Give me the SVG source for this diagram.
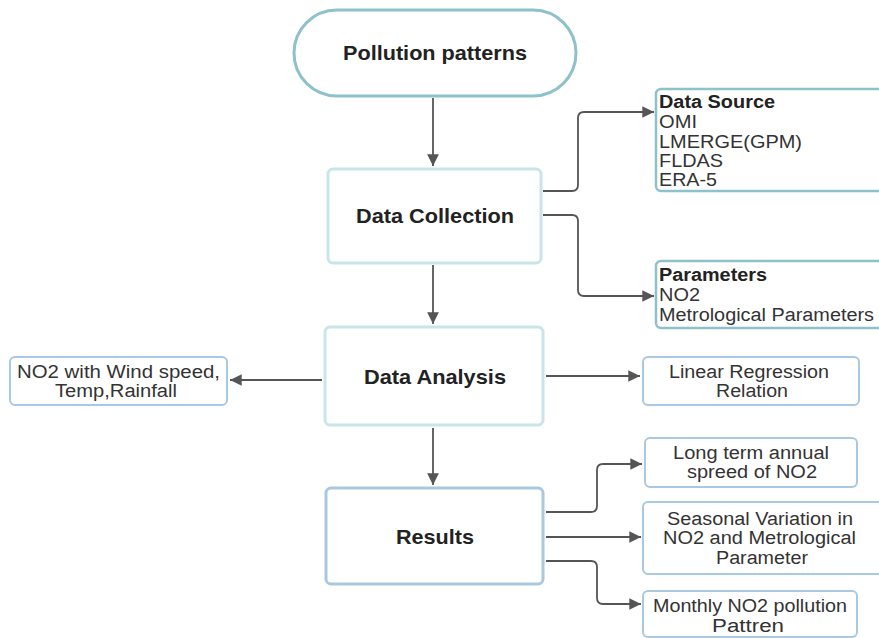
<svg xmlns="http://www.w3.org/2000/svg" width="879" height="638" viewBox="0 0 879 638">
<style>
.t{font-family:"Liberation Sans",Arial,sans-serif;fill:#222;}
.b{font-weight:bold;font-size:20.5px;text-anchor:middle;}
.r{font-size:18px;fill:#333;}
.sb{font-size:18px;font-weight:bold;}
.c{text-anchor:middle;}
.main{fill:#fff;stroke:#c8e6ea;stroke-width:3;}
.side{fill:#fff;stroke:#a9c8e2;stroke-width:2;}
.sideT{fill:#fff;stroke:#8ec1cc;stroke-width:2.5;}
.con{fill:none;stroke:#555;stroke-width:1.8;}
</style>
<defs>
<marker id="ah" viewBox="0 0 10 10" refX="10" refY="5" markerWidth="6.5" markerHeight="6.5" orient="auto" markerUnits="strokeWidth">
<path d="M0,0 L10,5 L0,10 z" fill="#555"/>
</marker>
</defs>
<rect width="879" height="638" fill="#fff"/>
<g id="connectors">
<path class="con" d="M433,98 V166" marker-end="url(#ah)"/>
<path class="con" d="M433,265 V324" marker-end="url(#ah)"/>
<path class="con" d="M433,428 V485" marker-end="url(#ah)"/>
<path class="con" d="M543,191 H572 Q578,191 578,185 V118 Q578,112 584,112 H654" marker-end="url(#ah)"/>
<path class="con" d="M543,215 H572 Q578,215 578,221 V290 Q578,296 584,296 H654" marker-end="url(#ah)"/>
<path class="con" d="M322,380 H230" marker-end="url(#ah)"/>
<path class="con" d="M546,376 H640" marker-end="url(#ah)"/>
<path class="con" d="M546,512 H591 Q597,512 597,506 V470 Q597,464 603,464 H642" marker-end="url(#ah)"/>
<path class="con" d="M546,537 H641" marker-end="url(#ah)"/>
<path class="con" d="M546,561 H591 Q597,561 597,567 V598 Q597,604 603,604 H641" marker-end="url(#ah)"/>
</g>
<g id="pollution">
<rect x="294" y="10" width="282" height="86" rx="43" fill="#fff" stroke="#8ec1cc" stroke-width="3"/>
<text class="t b" x="435" y="60" textLength="184" lengthAdjust="spacingAndGlyphs">Pollution patterns</text>
</g>
<g id="collection">
<rect class="main" x="328" y="169" width="213" height="94" rx="5"/>
<text class="t b" x="435" y="223" textLength="158" lengthAdjust="spacingAndGlyphs">Data Collection</text>
</g>
<g id="analysis">
<rect class="main" x="325" y="327" width="218" height="98" rx="5"/>
<text class="t b" x="435" y="384" textLength="142" lengthAdjust="spacingAndGlyphs">Data Analysis</text>
</g>
<g id="results">
<rect x="326" y="488" width="217" height="96" rx="5" fill="#fff" stroke="#a9c8e2" stroke-width="3"/>
<text class="t b" x="435" y="544" textLength="78" lengthAdjust="spacingAndGlyphs">Results</text>
</g>
<g id="datasource">
<rect class="sideT" x="656" y="89" width="230" height="102" rx="5"/>
<text class="t sb" x="659" y="108" textLength="116" lengthAdjust="spacingAndGlyphs">Data Source</text>
<text class="t r" x="659" y="128" textLength="38" lengthAdjust="spacingAndGlyphs">OMI</text>
<text class="t r" x="659" y="148" textLength="143" lengthAdjust="spacingAndGlyphs">LMERGE(GPM)</text>
<text class="t r" x="659" y="167" textLength="64" lengthAdjust="spacingAndGlyphs">FLDAS</text>
<text class="t r" x="659" y="186" textLength="58" lengthAdjust="spacingAndGlyphs">ERA-5</text>
</g>
<g id="parameters">
<rect class="sideT" x="656" y="261" width="230" height="67" rx="5"/>
<text class="t sb" x="659" y="281" textLength="108" lengthAdjust="spacingAndGlyphs">Parameters</text>
<text class="t r" x="659" y="301" textLength="41" lengthAdjust="spacingAndGlyphs">NO2</text>
<text class="t r" x="659" y="321" textLength="215" lengthAdjust="spacingAndGlyphs">Metrological Parameters</text>
</g>
<g id="windspeed">
<rect class="side" x="10" y="357" width="217" height="48" rx="5"/>
<text class="t r c" x="118.5" y="378" textLength="203" lengthAdjust="spacingAndGlyphs">NO2 with Wind speed,</text>
<text class="t r c" x="116" y="397" textLength="122" lengthAdjust="spacingAndGlyphs">Temp,Rainfall</text>
</g>
<g id="regression">
<rect class="side" x="643" y="357" width="216" height="48" rx="5"/>
<text class="t r c" x="749" y="378" textLength="160" lengthAdjust="spacingAndGlyphs">Linear Regression</text>
<text class="t r c" x="752" y="397" textLength="72" lengthAdjust="spacingAndGlyphs">Relation</text>
</g>
<g id="longterm">
<rect class="side" x="645" y="438" width="212" height="49" rx="5"/>
<text class="t r c" x="751" y="459" textLength="156" lengthAdjust="spacingAndGlyphs">Long term annual</text>
<text class="t r c" x="752" y="478" textLength="130" lengthAdjust="spacingAndGlyphs">spreed of NO2</text>
</g>
<g id="seasonal">
<rect class="side" x="643" y="502" width="240" height="72" rx="5"/>
<text class="t r c" x="760" y="525" textLength="186" lengthAdjust="spacingAndGlyphs">Seasonal Variation in</text>
<text class="t r c" x="759.5" y="544" textLength="193" lengthAdjust="spacingAndGlyphs">NO2 and Metrological</text>
<text class="t r c" x="762" y="564" textLength="92" lengthAdjust="spacingAndGlyphs">Parameter</text>
</g>
<g id="monthly">
<rect class="side" x="643" y="591" width="214" height="46" rx="5"/>
<text class="t r c" x="750" y="612" textLength="194" lengthAdjust="spacingAndGlyphs">Monthly NO2 pollution</text>
<text class="t r c" x="748" y="632" textLength="72" lengthAdjust="spacingAndGlyphs">Pattren</text>
</g>
</svg>
